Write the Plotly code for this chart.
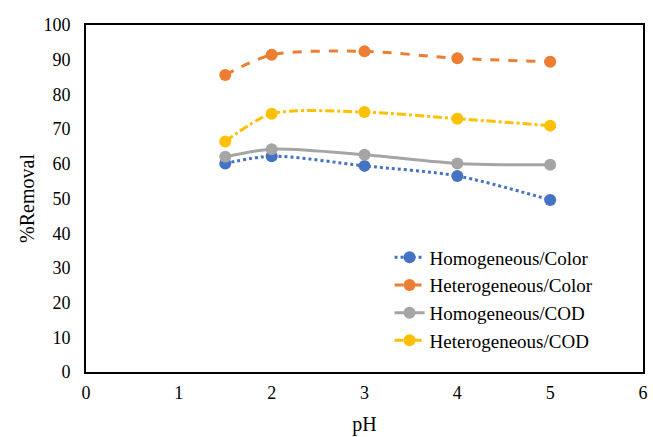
import plotly.graph_objects as go

ph = [1.5, 2, 3, 4, 5]
homo_color = [60.1, 62.2, 59.4, 56.5, 49.6]
hetero_color = [85.6, 91.4, 92.4, 90.4, 89.4]
homo_cod = [62.0, 64.2, 62.6, 60.1, 59.7]
hetero_cod = [66.4, 74.4, 74.9, 73.0, 71.0]

series = [
    ("Homogeneous/Color", homo_color, "#4472C4", "dot"),
    ("Heterogeneous/Color", hetero_color, "#ED7D31", "dash"),
    ("Homogeneous/COD", homo_cod, "#A5A5A5", "solid"),
    ("Heterogeneous/COD", hetero_cod, "#FFC000", "dashdot"),
]

fig = go.Figure()
for name, vals, col, dash in series:
    fig.add_trace(go.Scatter(
        x=ph, y=vals, name=name, mode="lines+markers",
        line=dict(color=col, width=3, dash=dash, shape="spline", smoothing=0.8),
        marker=dict(color=col, size=12),
    ))

font = "Liberation Serif"
fig.update_layout(
    width=653, height=437,
    margin=dict(l=86, r=5, t=25, b=65),
    paper_bgcolor="white", plot_bgcolor="white",
    font=dict(family=font, size=18, color="black"),
    showlegend=True,
    legend=dict(x=0.545, y=0.385, xanchor="left", yanchor="top",
                bgcolor="rgba(0,0,0,0)", font=dict(size=19, family=font, color="black"),
                tracegroupgap=0, itemwidth=30),
    xaxis=dict(range=[0, 6], dtick=1, showgrid=False, zeroline=False,
               showline=True, linecolor="black", linewidth=2, mirror=True,
               ticks="outside", ticklen=3, tickcolor="rgba(0,0,0,0)",
               title=dict(text="pH", font=dict(size=20, family=font, color="black"), standoff=15),
               tickfont=dict(size=18, family=font, color="black")),
    yaxis=dict(range=[0, 100], dtick=10, showgrid=False, zeroline=False,
               showline=True, linecolor="black", linewidth=2, mirror=True,
               ticks="outside", ticklen=10, tickcolor="rgba(0,0,0,0)",
               title=dict(text="%Removal", font=dict(size=20, family=font, color="black"), standoff=3),
               tickfont=dict(size=18, family=font, color="black")),
)
fig.write_html("out.html")
